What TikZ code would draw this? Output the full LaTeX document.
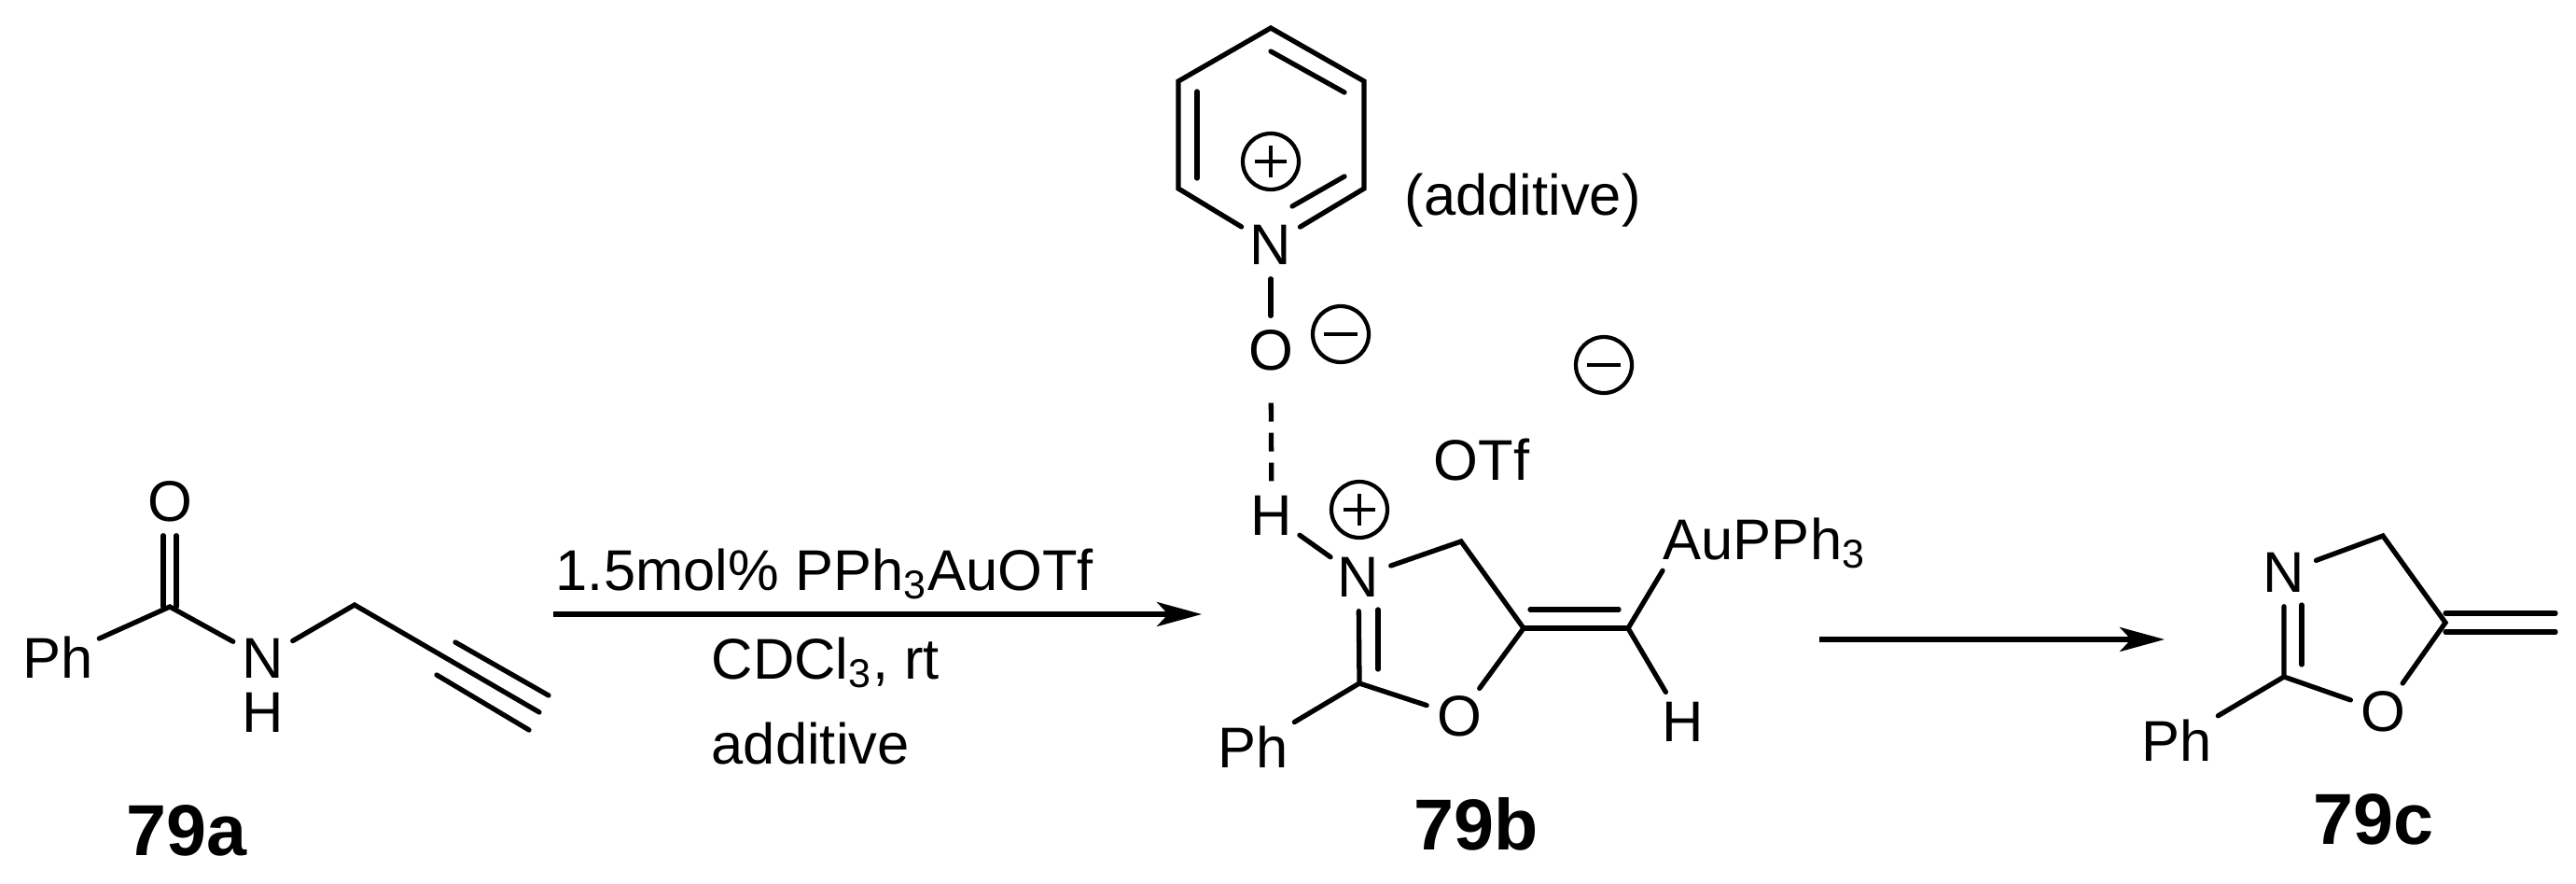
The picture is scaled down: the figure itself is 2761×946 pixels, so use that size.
\documentclass[tikz,border=0pt]{standalone}
\usepackage{fontspec}
\setmainfont{Liberation Sans}
\usetikzlibrary{arrows.meta,calc}
\begin{document}
\begin{tikzpicture}[x=0.1mm,y=-0.1mm,
  every node/.style={font=\fontsize{17.5}{20}\selectfont},
  bond/.style={line width=1.5pt,line cap=round},
  atom/.style={circle,inner sep=0pt,minimum size=7.2mm},
  grp/.style={rectangle,inner sep=0.6mm},
  cmpd/.style={font=\fontsize{22}{26}\selectfont\bfseries},
  chg/.style={circle,draw,line width=1.2pt,minimum size=6mm,inner sep=0pt},
  rxn/.style={line width=1.5pt,-{Stealth[length=4.8mm,width=2.6mm,inset=1.2mm]}}]
\useasboundingbox (0,0) rectangle (2761,946);
% ---------- 79a ----------
\node[grp] (aPh) at (62,704) {Ph};
\coordinate (aC1) at (182,650);
\node[atom] (aO) at (182,537) {O};
\node[atom] (aN) at (282,705) {N};
\node[atom,minimum size=6mm] (aH) at (282,763) {H};
\coordinate (aC2) at (380,648);
\coordinate (aC4) at (578,763);
\coordinate (aT1s) at (488,688); \coordinate (aT1e) at (588,745);
\coordinate (aT2s) at (468,723); \coordinate (aT2e) at (567,782);
\draw[bond] (aPh) -- (aC1) -- (aN);
\draw[bond] (aN) -- (aC2) -- (aC4);
\draw[bond] (aT1s) -- (aT1e);
\draw[bond] (aT2s) -- (aT2e);
\draw[bond] ($(aC1)+(-7,0)$) -- ($(aO.south)+(-7,0)$);
\draw[bond] ($(aC1)+(7,0)$) -- ($(aO.south)+(7,0)$);
\node[cmpd] (l79a) at (200,890) {79a};
% ---------- arrow 1 ----------
\coordinate (r1s) at (593,658);
\coordinate (r1e) at (1288,658);
\draw[rxn] (r1s) -- (r1e);
\node[anchor=base west,inner sep=0pt] (cond1) at (595,632) {1.5mol\% PPh\textsubscript{3}AuOTf};
\node[anchor=base west,inner sep=0pt] (cond2) at (762,727) {CDCl\textsubscript{3}, rt};
\node[anchor=base west,inner sep=0pt] (cond3) at (762,818) {additive};
% ---------- pyridine N-oxide ----------
\coordinate (P1) at (1362,30);
\coordinate (P2) at (1462,87);
\coordinate (P3) at (1462,202);
\node[atom] (pN) at (1362,262) {N};
\coordinate (P5) at (1263,202);
\coordinate (P6) at (1263,87);
\draw[bond] (pN) -- (P5) -- (P6) -- (P1) -- (P2) -- (P3) -- (pN);
\draw[bond] (1283,98) -- (1283,191);
\draw[bond] (1362,55) -- (1441,99);
\draw[bond] (1441,189) -- (1385,221);
\node[chg] (pPlus) at (1362,173) {};
\draw[line width=1.2pt] ($(pPlus)+(-17,0)$) -- ($(pPlus)+(17,0)$) ($(pPlus)+(0,-17)$) -- ($(pPlus)+(0,17)$);
\node[atom] (pO) at (1362,375) {O};
\draw[bond] (pN) -- (pO);
\node[chg] (pMinus) at (1437,358) {};
\draw[line width=1.2pt] ($(pMinus)+(-18,0)$) -- ($(pMinus)+(18,0)$);
\node[anchor=base west,inner sep=0pt] (addl) at (1505,230) {(additive)};
% ---------- 79b ----------
\node[atom] (bH) at (1363,552) {H};
\node[chg] (bPlus) at (1457,546) {};
\draw[line width=1.2pt] ($(bPlus)+(-17,0)$) -- ($(bPlus)+(17,0)$) ($(bPlus)+(0,-17)$) -- ($(bPlus)+(0,17)$);
\node[atom] (bN) at (1456,618) {N};
\coordinate (bC4) at (1566,580);
\coordinate (bC5) at (1633,673);
\node[atom] (bO) at (1564,767) {O};
\coordinate (bC2) at (1457,732);
\node[grp] (bPh) at (1343,800) {Ph};
\coordinate (bC6) at (1745,673);
\node[anchor=base west,inner sep=0pt] (bAu) at (1782,599) {AuPPh\textsubscript{3}};
\node[atom] (bH2) at (1804,773) {H};
\node[anchor=center,inner sep=0pt] (bOTf) at (1588,493) {OTf};
\node[chg] (bMinus) at (1719,391) {};
\draw[line width=1.2pt] ($(bMinus)+(-18,0)$) -- ($(bMinus)+(18,0)$);
\draw[bond] (bH) -- (bN);
\draw[bond] (bN) -- (bC4) -- (bC5) -- (bO) -- (bC2) -- (bN);
\draw[bond] (1477,717) -- (1477,653);
\draw[bond] (bC2) -- (bPh);
\draw[bond] (bC5) -- (bC6);
\draw[bond] (1640,653) -- (1735,653);
\draw[bond] (bC6) -- ($(bAu.south west)+(0,2)$);
\draw[bond] (bC6) -- (bH2);
\draw[line width=1.5pt,dash pattern=on 2mm off 1.2mm,shorten <=2mm] (pO) -- (bH);
\node[cmpd] (l79b) at (1582,883) {79b};
% ---------- arrow 2 ----------
\coordinate (r2s) at (1950,685);
\coordinate (r2e) at (2320,685);
\draw[rxn] (r2s) -- (r2e);
% ---------- 79c ----------
\node[atom] (cN) at (2448,613) {N};
\coordinate (cC4) at (2554,574);
\coordinate (cC5) at (2621,667);
\node[atom] (cO) at (2554,762) {O};
\coordinate (cC2) at (2448,725);
\node[grp] (cPh) at (2333,793) {Ph};
\draw[bond] (cN) -- (cC4) -- (cC5) -- (cO) -- (cC2) -- (cN);
\draw[bond] (2467,712) -- (2467,648);
\draw[bond] (cC2) -- (cPh);
\draw[bond] ($(cC5)+(0,-10)$) -- (2739,657);
\draw[bond] ($(cC5)+(0,10)$) -- (2739,677);
\node[cmpd] (l79c) at (2544,878) {79c};
\end{tikzpicture}
\end{document}
